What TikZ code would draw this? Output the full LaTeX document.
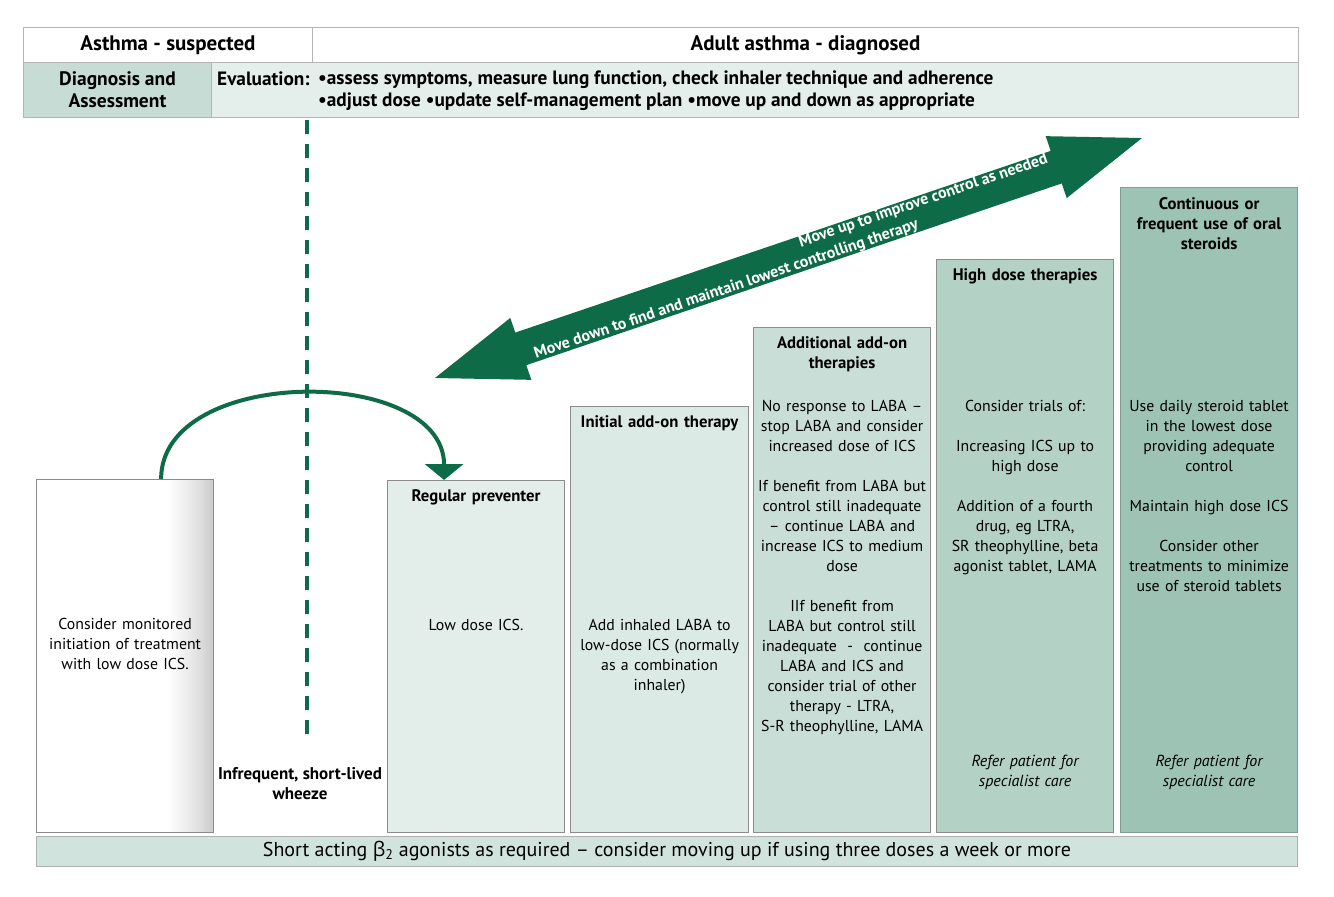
\documentclass[tikz,border=0pt]{standalone}
\usepackage{fontspec}
\setmainfont{PT Sans}
\newfontfamily\greekfont{Open Sans}
\usetikzlibrary{positioning,arrows.meta,shapes.arrows,calc}
\definecolor{ashgreen}{HTML}{0E6B47}
\definecolor{rowtint}{HTML}{E4EFEB}
\definecolor{diagtint}{HTML}{C6DCD4}
\definecolor{steptwo}{HTML}{E3EEEA}
\definecolor{stepthree}{HTML}{DCEAE5}
\definecolor{stepfour}{HTML}{C9DED6}
\definecolor{stepfive}{HTML}{B4D1C6}
\definecolor{stepsix}{HTML}{9DC3B5}
\definecolor{sabatint}{HTML}{D0E3DC}
\definecolor{boxline}{HTML}{8C8C8C}
\definecolor{cellline}{HTML}{B4B4B4}
\pgfdeclarehorizontalshading{consshade}{100bp}{color(0bp)=(white); color(25bp)=(white); color(62bp)=(white); color(70bp)=(gray!22); color(75bp)=(gray!42); color(100bp)=(gray!42)}

\begin{document}
\begin{tikzpicture}[x=1pt,y=-1pt,
    stage/.style={draw=boxline,line width=1.2pt,anchor=north west,minimum width=177pt,inner sep=0pt},
    cell/.style={draw=cellline,line width=1pt,anchor=north west,inner sep=0pt},
    title/.style={anchor=north,text width=176pt,align=center,inner sep=0pt,font=\fontsize{16.7}{20}\selectfont\bfseries},
    body/.style={anchor=north,text width=178pt,align=center,inner sep=0pt,font=\fontsize{15.8}{20}\selectfont},
    referral/.style={body,font=\fontsize{16}{20}\selectfont\itshape},
    arrownote/.style={text=white,inner sep=0pt,font=\fontsize{16}{18}\selectfont\bfseries}]

  \useasboundingbox (0,0) rectangle (1334,897);

  % header table
  \node[cell,minimum width=289pt,minimum height=35pt,font=\fontsize{21}{24}\selectfont\bfseries] (suspected) at (23,27) {Asthma - suspected};
  \node[cell,minimum width=986pt,minimum height=35pt,font=\fontsize{21}{24}\selectfont\bfseries] (diagnosed) at (312,27) {Adult asthma - diagnosed};
  \node[cell,fill=diagtint,minimum width=188pt,minimum height=55pt,align=center,font=\fontsize{19.5}{22}\selectfont\bfseries] (assess) at (23,62) {Diagnosis and\\Assessment};
  \node[cell,fill=rowtint,minimum width=1087pt,minimum height=55pt] (evalrow) at (211,62) {};
  \node[anchor=base west,inner sep=0pt,font=\fontsize{19.3}{22}\selectfont\bfseries] (evallbl) at (217,85) {Evaluation:};
  \node[anchor=north west,inner sep=0pt,align=left,font=\fontsize{19.3}{22}\selectfont\bfseries] (evaltxt) at (318,71) {•assess symptoms, measure lung function, check inhaler technique and adherence\\•adjust dose •update self-management plan •move up and down as appropriate};

  % stages
  \node[stage,shade,shading=consshade,minimum height=353pt] (monitor) at (36,479) {};
  \node[stage,fill=steptwo,minimum height=352pt] (regprev) at (387,480) {};
  \node[stage,fill=stepthree,minimum height=426pt,minimum width=178pt] (initadd) at (570,406) {};
  \node[stage,fill=stepfour,minimum height=505pt] (addlon) at (753,327) {};
  \node[stage,fill=stepfive,minimum height=573pt] (highdose) at (936,259) {};
  \node[stage,draw=stepsix!80!black,fill=stepsix,minimum height=645pt] (oralster) at (1120,187) {};

  \node[body,below=139pt of monitor.north] (monitortxt) {Consider monitored\\initiation of treatment\\with low dose ICS.};
  \node[title,below=9pt of regprev.north] (regprevttl) {Regular preventer};
  \node[body,below=139pt of regprev.north] (regprevtxt) {Low dose ICS.};
  \node[title,below=9pt of initadd.north] (initaddttl) {Initial add-on therapy};
  \node[body,below=213pt of initadd.north] (initaddtxt) {Add inhaled LABA to\\low-dose ICS (normally\\as a combination\\inhaler)};
  \node[title,below=9pt of addlon.north] (addlonttl) {Additional add-on\\therapies};
  \node[body,below=73pt of addlon.north] (addlontxt) {No response to LABA --\\stop LABA and consider\\increased dose of ICS\\[20pt]If benefit from LABA but\\control still inadequate\\-- continue LABA and\\increase ICS to medium\\dose\\[20pt]IIf benefit from\\LABA but control still\\inadequate\ \ -\ \ continue\\LABA and ICS and\\consider trial of other\\therapy - LTRA,\\S-R theophylline, LAMA};
  \node[title,below=9pt of highdose.north] (highdosettl) {High dose therapies};
  \node[body,below=141pt of highdose.north] (highdosetxt) {Consider trials of:\\[20pt]Increasing ICS up to\\high dose\\[20pt]Addition of a fourth\\drug, eg LTRA,\\SR theophylline, beta\\agonist tablet, LAMA};
  \node[referral,below=496pt of highdose.north] (highdoseref) {Refer patient for\\specialist care};
  \node[title,below=10pt of oralster.north] (oralsterttl) {Continuous or\\frequent use of oral\\steroids};
  \node[body,below=213pt of oralster.north] (oralstertxt) {Use daily steroid tablet\\in the lowest dose\\providing adequate\\control\\[20pt]Maintain high dose ICS\\[20pt]Consider other\\treatments to minimize\\use of steroid tablets};
  \node[referral,below=568pt of oralster.north] (oralsterref) {Refer patient for\\specialist care};

  \node[anchor=north,align=center,inner sep=0pt,font=\fontsize{17}{20}\selectfont\bfseries] (wheeze) at (300,767) {Infrequent, short-lived\\wheeze};

  % reliever bar
  \node[cell,draw=boxline!70,fill=sabatint,minimum width=1261pt,minimum height=30pt,font=\fontsize{20}{22}\selectfont] (saba) at (36,836) {Short acting {\greekfont β}\textsubscript{2} agonists as required -- consider moving up if using three doses a week or more};

  % suspected / diagnosed divider
  \coordinate (dtop) at (307,120);
  \coordinate (dbot) at (307,735);
  \draw[ashgreen,line width=3.5pt,dash pattern=on 14pt off 10pt] (dtop) -- (dbot);

  \draw[ashgreen,line width=4pt,-{Triangle[width=38pt,length=16pt]}] ([xshift=36pt]monitor.north) .. controls +(0,-114) and +(0,-115) .. ([xshift=-32pt]regprev.north);

  % move up / move down
  \begin{scope}[shift={(788.5,258)},rotate=18.75,transform shape]
    \node[double arrow,fill=ashgreen,inner xsep=0pt,inner ysep=17pt,minimum height=746.6pt,
      double arrow head extend=15.5pt,double arrow tip angle=39.7,double arrow head indent=0pt] (updown) at (0,0) {};
    \node[arrownote] (upnote) at (146,-10.5) {Move up to improve control as needed};
    \node[arrownote] (downnote) at (-69,10) {Move down to find and maintain lowest controlling therapy};
  \end{scope}
\end{tikzpicture}
\end{document}
